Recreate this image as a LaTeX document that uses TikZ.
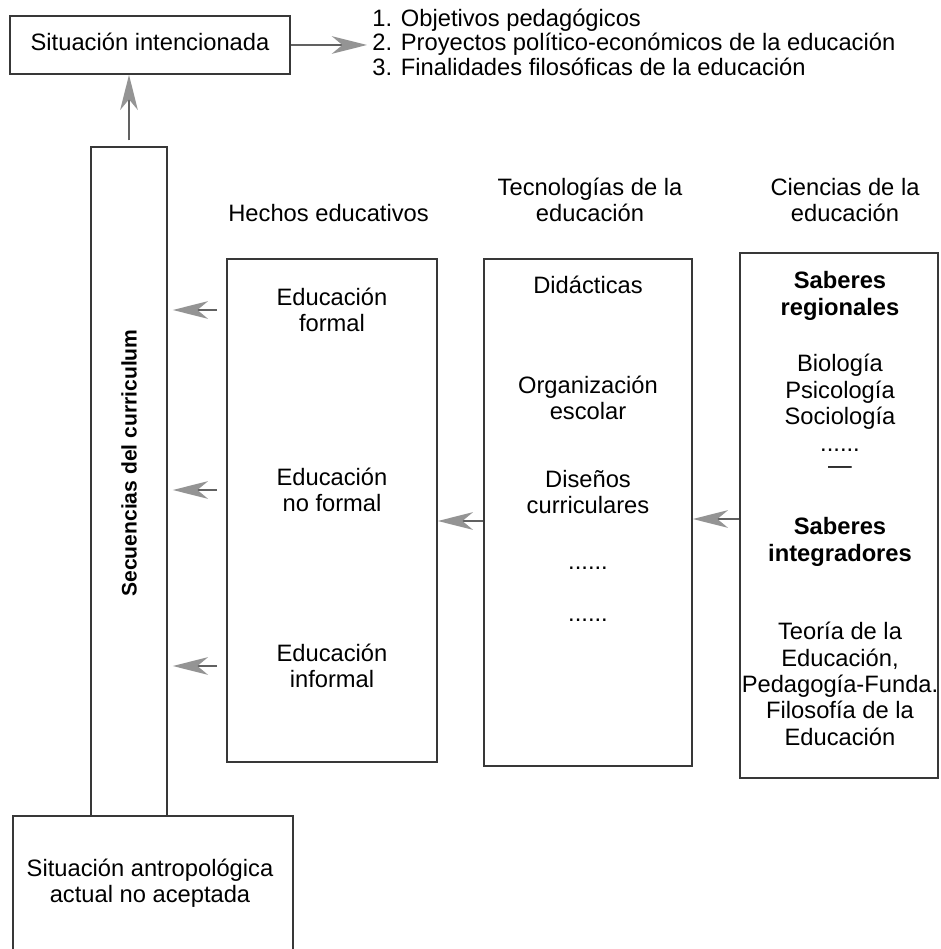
\documentclass[tikz,border=0pt]{standalone}
\usepackage{fontspec}
\setmainfont{Liberation Sans}
\usepackage{tikz}
\usetikzlibrary{arrows.meta,positioning,calc}
\tikzset{
  cuBox/.style={draw=black!78, line width=0.9pt, fill=none, inner sep=0pt},
  cuTxt/.style={align=center, inner sep=0pt,
    font=\fontsize{13.5}{15}\selectfont},
  cuHead/.style={align=center, inner sep=0pt,
    font=\fontsize{13.5}{15}\selectfont},
  cuBold/.style={cuTxt, font=\fontsize{13.5}{15}\selectfont\bfseries},
  %% Flow arrows
  cuArr/.style={-{Stealth[length=20pt, width=10pt, inset=6pt, color=black!42]},
    draw=black!62, line width=1.5pt},
}

\begin{document}
\begin{tikzpicture}[x=0.02cm, y=-0.02cm, font=\fontsize{13.5}{15}\selectfont]
\clip (0,0) rectangle (940,949);
\useasboundingbox (0,0) rectangle (940,949);

%% Top: intended situation
\node[cuBox, minimum width=5.6cm, minimum height=1.16cm] (pIntent) at (150,45) {};
\node[cuTxt] at (150,42) {Situación intencionada};
\node[cuTxt, anchor=west, align=left, font=\fontsize{13.5}{14}\selectfont]
  (pObj) at (372,42) {1. Objetivos pedagógicos\\
  2. Proyectos político-económicos de la educación\\
  3. Finalidades filosóficas de la educación};

%% Curriculum column + bottom situation
\node[cuBox, minimum width=1.52cm, minimum height=13.38cm] (pSeq) at (129,481.5) {};
\node[cuBold, rotate=90, font=\fontsize{12}{14}\selectfont\bfseries] at (129,463) {Secuencias del curriculum};
\node[cuBox, minimum width=5.6cm, minimum height=3.1cm] (pAnthro) at (153,893.5) {};
\node[cuTxt] at (150,883) {Situación antropológica\\actual no aceptada};

%% Column headings
\node[cuHead, anchor=west] (hHech) at (228,213) {Hechos educativos};
\node[cuHead] (hTec)  at (590,200) {Tecnologías de la\\educación};
\node[cuHead] (hCien) at (845,200) {Ciencias de la\\educación};

%% Hechos educativos
\node[cuBox, minimum width=4.2cm, minimum height=10.06cm] (pHech) at (332,510.5) {};
\node[cuTxt] (eForm)  at (332,310) {Educación\\formal};
\node[cuTxt] (eNoF)   at (332,490) {Educación\\no formal};
\node[cuTxt] (eInf)   at (332,666) {Educación\\informal};

%% Tecnologias
\node[cuBox, minimum width=4.16cm, minimum height=10.14cm] (pTec) at (588,512.5) {};
\node[cuTxt] (tDid)  at (588,285) {Didácticas};
\node[cuTxt] (tOrg)  at (588,398) {Organización\\escolar};
\node[cuTxt] (tDis)  at (588,492) {Diseños\\curriculares};
\node[cuTxt] (tDot1) at (588,568) {......};
\node[cuTxt] (tDot2) at (588,620) {......};
\coordinate (tArr) at (588,521);

%% Ciencias
\node[cuBox, minimum width=3.96cm, minimum height=10.5cm] (pCien) at (839,515.5) {};
\node[cuBold] (cReg)  at (840,296) {Saberes\\regionales};
\node[cuTxt]  (cList) at (840,392) {Biología\\Psicología\\Sociología};
\node[cuTxt]  (cDot)  at (840,450) {......};
\node[cuTxt]  (cDash) at (840,470) {—};
\node[cuBold] (cInt)  at (840,542) {Saberes\\integradores};
\node[cuTxt]  (cFil)  at (840,684) {Teoría de la\\Educación,\\Pedagogía-Funda.\\Filosofía de la\\Educación};
\coordinate (cArr) at (840,519);

%% Arrows
\draw[cuArr] (pIntent.east) -- ([xshift=-0.1cm]pIntent.east -| pObj.west);
\draw[cuArr, shorten <=0.12cm] (pSeq.north) -- (pSeq.north |- pIntent.south);
\foreach \e in {eForm, eNoF, eInf}
  \draw[cuArr, shorten <=0.18cm, shorten >=0.1cm] (\e -| pHech.west) -- (\e -| pSeq.east);
\draw[cuArr] (tArr -| pTec.west) -- (tArr -| pHech.east);
\draw[cuArr] (cArr -| pCien.west) -- (cArr -| pTec.east);

\end{tikzpicture}
\end{document}
